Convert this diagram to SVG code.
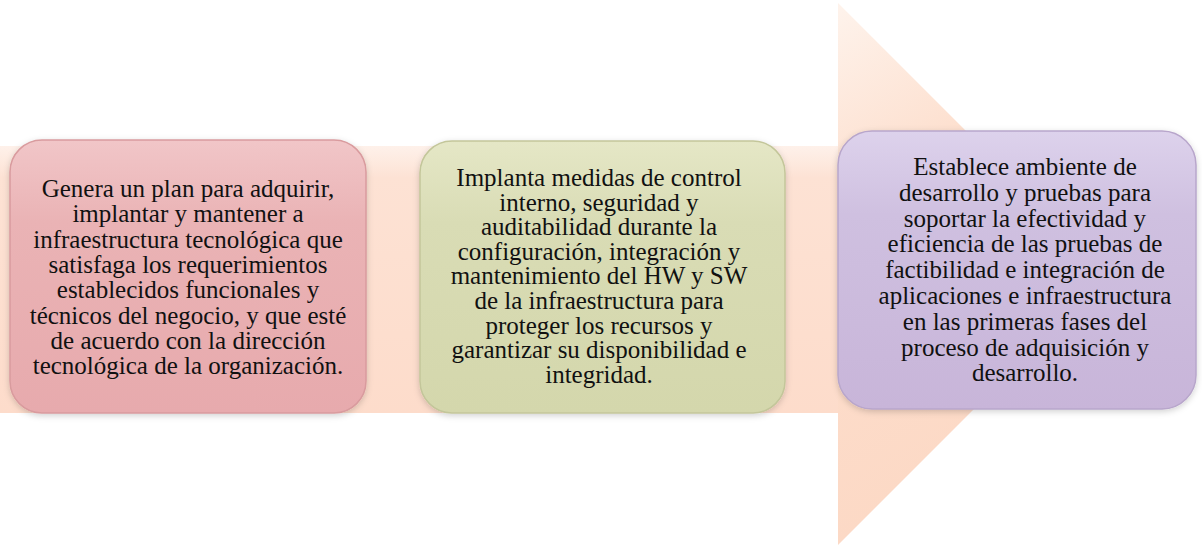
<svg xmlns="http://www.w3.org/2000/svg" width="1202" height="548" viewBox="0 0 1202 548">
<style>
  text { font-family: "Liberation Serif", "Times New Roman", serif; font-size: 25px; fill: #111; text-anchor: middle; }
  .box { stroke-width: 1.5; }
</style>
<defs>
  <linearGradient id="gShaft" x1="0" y1="0" x2="0" y2="1">
    <stop offset="0" stop-color="#FEF1EA"/>
    <stop offset="0.12" stop-color="#FDE2D4"/>
    <stop offset="1" stop-color="#FDDCCB"/>
  </linearGradient>
  <linearGradient id="gHead" x1="0" y1="0" x2="0.3" y2="1">
    <stop offset="0" stop-color="#FEF3EC"/>
    <stop offset="0.35" stop-color="#FDDFCE"/>
    <stop offset="1" stop-color="#FCD8C4"/>
  </linearGradient>
  <linearGradient id="gPink" x1="0" y1="0" x2="0" y2="1">
    <stop offset="0" stop-color="#F1C6C8"/>
    <stop offset="0.3" stop-color="#EAB3B5"/>
    <stop offset="1" stop-color="#E7AAAD"/>
  </linearGradient>
  <linearGradient id="gGreen" x1="0" y1="0" x2="0" y2="1">
    <stop offset="0" stop-color="#E5E7C6"/>
    <stop offset="0.3" stop-color="#D9DCB5"/>
    <stop offset="1" stop-color="#D4D7AC"/>
  </linearGradient>
  <linearGradient id="gPurple" x1="0" y1="0" x2="0" y2="1">
    <stop offset="0" stop-color="#DDD2EC"/>
    <stop offset="0.3" stop-color="#CFC0E0"/>
    <stop offset="1" stop-color="#C8B5D9"/>
  </linearGradient>
  <filter id="soft" x="-10%" y="-10%" width="120%" height="120%">
    <feGaussianBlur in="SourceAlpha" stdDeviation="3"/>
    <feOffset dx="0" dy="2" result="b"/>
    <feFlood flood-color="#000" flood-opacity="0.18"/>
    <feComposite in2="b" operator="in"/>
    <feMerge><feMergeNode/><feMergeNode in="SourceGraphic"/></feMerge>
  </filter>
</defs>

<g id="connectors">
  <rect x="0" y="146" width="840" height="267" fill="url(#gShaft)"/>
  <polygon points="838,3 1109,274 838,545" fill="url(#gHead)"/>
</g>

<g id="node1">
  <rect class="box" x="10" y="140" width="356" height="273" rx="32" fill="url(#gPink)" stroke="#D99B9E" filter="url(#soft)"/>
  <text x="188" y="197">Genera un plan para adquirir,</text>
  <text x="188" y="222.3">implantar y mantener a</text>
  <text x="188" y="247.6">infraestructura tecnológica que</text>
  <text x="188" y="272.9">satisfaga los requerimientos</text>
  <text x="188" y="298.2">establecidos funcionales y</text>
  <text x="188" y="323.5">técnicos del negocio, y que esté</text>
  <text x="188" y="348.8">de acuerdo con la dirección</text>
  <text x="188" y="374.1">tecnológica de la organización.</text>
</g>

<g id="node2">
  <rect class="box" x="420" y="141" width="365" height="272" rx="32" fill="url(#gGreen)" stroke="#C3C69A" filter="url(#soft)"/>
  <text x="599" y="186">Implanta medidas de control</text>
  <text x="599" y="210.6">interno, seguridad y</text>
  <text x="599" y="235.2">auditabilidad durante la</text>
  <text x="599" y="259.8">configuración, integración y</text>
  <text x="599" y="284.4">mantenimiento del HW y SW</text>
  <text x="599" y="309">de la infraestructura para</text>
  <text x="599" y="333.6">proteger los recursos y</text>
  <text x="599" y="358.2">garantizar su disponibilidad e</text>
  <text x="599" y="382.8">integridad.</text>
</g>

<g id="node3">
  <rect class="box" x="838" y="131" width="358" height="278" rx="34" fill="url(#gPurple)" stroke="#B8A6CB" filter="url(#soft)"/>
  <text x="1025" y="175">Establece ambiente de</text>
  <text x="1025" y="200.8">desarrollo y pruebas para</text>
  <text x="1025" y="226.6">soportar la efectividad y</text>
  <text x="1025" y="252.4">eficiencia de las pruebas de</text>
  <text x="1025" y="278.2">factibilidad e integración de</text>
  <text x="1025" y="304">aplicaciones e infraestructura</text>
  <text x="1025" y="329.8">en las primeras fases del</text>
  <text x="1025" y="355.6">proceso de adquisición y</text>
  <text x="1025" y="381.4">desarrollo.</text>
</g>
</svg>
